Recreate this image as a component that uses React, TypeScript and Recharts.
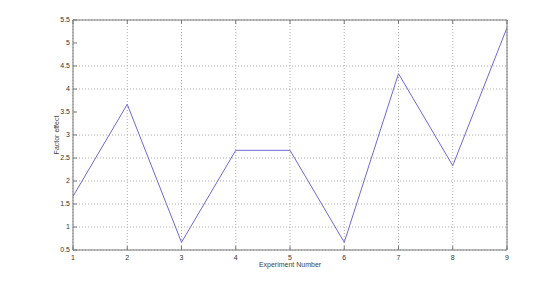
import { LineChart, Line, XAxis, YAxis, CartesianGrid } from 'recharts'

const experiments = [1, 2, 3, 4, 5, 6, 7, 8, 9]
const effects = [1.667, 3.667, 0.667, 2.667, 2.667, 0.667, 4.333, 2.333, 5.333]
const yTicks = [0.5, 1, 1.5, 2, 2.5, 3, 3.5, 4, 4.5, 5, 5.5]

const data = experiments.map((n, i) => ({ exp: n, effect: effects[i] }))

const font = 'Liberation Sans, Arial, sans-serif'
const tickStyle = { fontSize: 7, fill: '#333', fontFamily: font }
const blank = () => ''

export default function App() {
  return (
    <div style={{ position: 'absolute', left: 0, top: 0, width: 560, height: 281, background: '#fff' }}>
      <LineChart width={560} height={281} data={data} margin={{ top: 20, right: 53, bottom: 0, left: 0 }}>
        <CartesianGrid stroke="#b0b0b0" strokeDasharray="1 2" />
        <XAxis
          dataKey="exp"
          type="number"
          domain={[1, 9]}
          ticks={experiments}
          height={31}
          stroke="#777"
          tickSize={-4}
          tickMargin={9}
          tick={tickStyle}
          label={{ value: 'Experiment Number', position: 'insideBottom', offset: 14, style: { fontSize: 7, fill: '#444', fontFamily: font } }}
        />
        <XAxis
          xAxisId="top"
          orientation="top"
          dataKey="exp"
          type="number"
          domain={[1, 9]}
          ticks={experiments}
          height={1}
          stroke="#777"
          tickSize={4}
          mirror
          tickFormatter={blank}
        />
        <YAxis
          type="number"
          domain={[0.5, 5.5]}
          ticks={yTicks}
          width={73}
          stroke="#777"
          tickSize={-4}
          tickMargin={7}
          tick={tickStyle}
          label={{ value: 'Factor effect', angle: -90, position: 'insideLeft', offset: 57, style: { textAnchor: 'middle', fontSize: 7, fill: '#444', fontFamily: font } }}
        />
        <YAxis
          yAxisId="right"
          orientation="right"
          type="number"
          domain={[0.5, 5.5]}
          ticks={yTicks}
          width={1}
          stroke="#777"
          tickSize={4}
          mirror
          tickFormatter={blank}
        />
        <Line type="linear" dataKey="effect" stroke="#6b6bd6" strokeWidth={1} dot={false} isAnimationActive={false} />
      </LineChart>
    </div>
  )
}
